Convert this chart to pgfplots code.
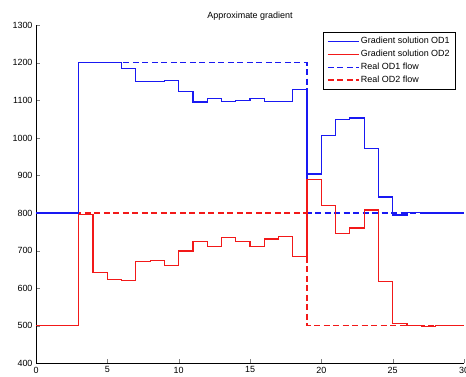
\documentclass[border=0pt]{standalone}
\usepackage{fontspec}
\setmainfont{Liberation Sans}
\usepackage{pgfplots}
\pgfplotsset{compat=1.18}
\definecolor{lineblue}{rgb}{0.1,0.1,0.95}
\definecolor{linered}{rgb}{0.95,0.1,0.1}
\begin{document}
\begin{tikzpicture}[font=\fontsize{9}{10.5}\selectfont]
\begin{axis}[
  scale only axis, width=428bp, height=338bp,
  xmin=0, xmax=30, ymin=400, ymax=1300,
  xtick={0,5,...,30}, ytick={400,500,...,1300},
  axis x line*=bottom, axis y line*=left,
  tick align=inside, major tick length=4bp,
  /pgf/number format/assume math mode=true,
  ticklabel style={font=\fontsize{9}{10}\selectfont},
  y tick label style={/pgf/number format/1000 sep={}},
  title={Approximate gradient},
  title style={at={(0.5,1)},anchor=base,yshift=0.8bp,font=\fontsize{9}{10}\selectfont},
  legend style={at={(1,1)},anchor=north east,xshift=-8.3bp,yshift=-6.4bp,
    fill=white, font=\fontsize{9}{10}\selectfont,
    inner xsep=4.3bp, inner ysep=3.7bp,
    nodes={inner sep=1.5bp, text height=6.5bp, text depth=2bp},
    row sep=1.4bp},
  legend cell align=left,
  legend image code/.code={\draw[#1] (0bp,0bp) -- (31bp,0bp);},
]
\addlegendimage{draw=lineblue, line width=1.2bp}
\addlegendentry{Gradient solution OD1}
\addlegendimage{draw=linered, line width=1.2bp}
\addlegendentry{Gradient solution OD2}
\addlegendimage{draw=lineblue, line width=1.2bp, dash pattern=on 6bp off 3.5bp}
\addlegendentry{Real OD1 flow}
\addlegendimage{draw=linered, line width=1.2bp, dash pattern=on 6bp off 3.5bp}
\addlegendentry{Real OD2 flow}
\addplot[const plot, draw=lineblue, line width=1.2bp, dash pattern=on 6bp off 3.5bp, forget plot] coordinates {
(0,800)(3,1200)(19,800)(30,800)};
\addplot[const plot, draw=linered, line width=1.2bp, dash pattern=on 6bp off 3.5bp, forget plot] coordinates {
(0,500)(3,800)(19,500)(30,500)};
\addplot[const plot, draw=lineblue, line width=1.2bp, forget plot] coordinates {
(0,800)(1,800)(2,800)(3,1200)(4,1200)(5,1202)(6,1185)(7,1151)(8,1151)(9,1152)
(10,1124)(11,1096)(12,1105)(13,1098)(14,1100)(15,1105)(16,1098)(17,1098)(18,1129)
(19,904)(20,1007)(21,1049)(22,1053)(23,973)(24,843)(25,795)(26,802)(27,800)
(28,800)(29,800)(30,800)};
\addplot[const plot, draw=linered, line width=1.2bp, forget plot] coordinates {
(0,500)(1,500)(2,500)(3,797)(4,641)(5,623)(6,621)(7,672)(8,674)(9,661)
(10,699)(11,725)(12,712)(13,736)(14,724)(15,712)(16,731)(17,738)(18,684)
(19,889)(20,821)(21,745)(22,760)(23,808)(24,617)(25,507)(26,501)(27,499)
(28,500)(29,500)(30,500)};
\end{axis}
\pgfresetboundingbox
\useasboundingbox ([shift={(-36bp,-13.7bp)}]current axis.south west) rectangle ([shift={(2bp,25.3bp)}]current axis.north east);
\end{tikzpicture}
\end{document}
